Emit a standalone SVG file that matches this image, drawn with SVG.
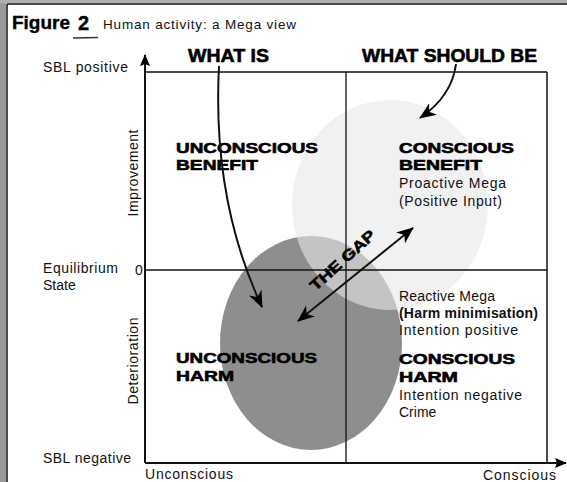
<svg xmlns="http://www.w3.org/2000/svg" width="567" height="482" viewBox="0 0 567 482">
<style>
.t{font-family:"Liberation Sans",Arial,sans-serif;font-size:14px;fill:#111}
.b{font-family:"Liberation Sans",Arial,sans-serif;font-weight:bold;font-size:15px;fill:#000;stroke:#000;stroke-width:0.6}
.ln{stroke:#111;fill:none}
</style>
<defs>
<marker id="big" markerUnits="userSpaceOnUse" markerWidth="18" markerHeight="14" refX="16" refY="7" orient="auto">
<path d="M0,0 L17,7 L0,14 L5,7 z" fill="#000"/>
</marker>
<marker id="bigs" markerUnits="userSpaceOnUse" markerWidth="18" markerHeight="14" refX="16" refY="7" orient="auto-start-reverse">
<path d="M0,0 L17,7 L0,14 L5,7 z" fill="#000"/>
</marker>
<marker id="ax" markerUnits="userSpaceOnUse" markerWidth="12" markerHeight="10" refX="11" refY="5" orient="auto">
<path d="M0,0 L12,5 L0,10 L2,5 z" fill="#000"/>
</marker>
</defs>
<rect width="567" height="482" fill="#fff"/>
<rect x="0" y="0" width="6" height="482" fill="#9a9a9a"/>
<rect x="0" y="0" width="567" height="3" fill="#b0b0b0"/>
<line class="ln" x1="7" y1="4" x2="7" y2="482" stroke-width="1.5"/>
<line class="ln" x1="7" y1="4" x2="567" y2="4" stroke-width="1.5"/>

<g id="title">
<text class="b" x="12" y="29" style="font-size:19px;stroke-width:0.4" textLength="58" lengthAdjust="spacingAndGlyphs">Figure</text>
<text class="b" x="78" y="30" style="font-size:20px;stroke-width:0.4">2</text>
<path d="M73,38 L98,37.5" stroke="#333" stroke-width="1.3"/>
<text class="t" x="103" y="29" style="font-size:13.5px" textLength="193">Human activity: a Mega view</text>
</g>

<g id="regions">
<ellipse cx="311" cy="343" rx="91" ry="107" fill="#8e8e8e"/>
<ellipse cx="390" cy="205" rx="98" ry="105" fill="#e8e8e8" opacity="0.6"/>
</g>

<g id="frame">
<line class="ln" x1="145" y1="72" x2="547" y2="72" stroke-width="1.5"/>
<line class="ln" x1="547" y1="72" x2="547" y2="463" stroke-width="1.5"/>
<line class="ln" x1="346" y1="72" x2="346" y2="463" stroke-width="1.3"/>
<line class="ln" x1="145" y1="270" x2="547" y2="270" stroke-width="1.5"/>
</g>

<g id="axes">
<line class="ln" x1="145" y1="463" x2="145" y2="55" stroke-width="2" marker-end="url(#ax)"/>
<line class="ln" x1="145" y1="463" x2="566" y2="463" stroke-width="2" marker-end="url(#ax)"/>
</g>

<g id="axis-labels">
<text class="t" x="43" y="72" textLength="85">SBL positive</text>
<text class="t" x="43" y="273" textLength="75">Equilibrium</text>
<text class="t" x="43" y="290">State</text>
<text class="t" x="135" y="275">0</text>
<text class="t" x="43" y="463" textLength="88">SBL negative</text>
<text class="t" x="145" y="479" textLength="88">Unconscious</text>
<text class="t" x="483" y="480" textLength="73">Conscious</text>
<text class="t" transform="translate(138,173) rotate(-90)" text-anchor="middle" textLength="87">Improvement</text>
<text class="t" transform="translate(138,361) rotate(-90)" text-anchor="middle" textLength="87">Deterioration</text>
</g>

<g id="what-is">
<text class="b" x="188" y="62" style="font-size:19px" textLength="81" lengthAdjust="spacingAndGlyphs">WHAT IS</text>
</g>
<g id="what-should-be">
<text class="b" x="362" y="62" style="font-size:19px" textLength="175" lengthAdjust="spacingAndGlyphs">WHAT SHOULD BE</text>
</g>

<g id="unconscious-benefit">
<text class="b" x="176" y="153" textLength="142" lengthAdjust="spacingAndGlyphs">UNCONSCIOUS</text>
<text class="b" x="176" y="170" textLength="82" lengthAdjust="spacingAndGlyphs">BENEFIT</text>
</g>
<g id="conscious-benefit">
<text class="b" x="399" y="153" textLength="115" lengthAdjust="spacingAndGlyphs">CONSCIOUS</text>
<text class="b" x="399" y="170" textLength="83" lengthAdjust="spacingAndGlyphs">BENEFIT</text>
<text class="t" x="399" y="188" textLength="107">Proactive Mega</text>
<text class="t" x="399" y="206" textLength="103">(Positive Input)</text>
</g>
<g id="reactive-mega">
<text class="t" x="399" y="301" textLength="96">Reactive Mega</text>
<text class="t" x="399" y="318" font-weight="bold" textLength="139">(Harm minimisation)</text>
<text class="t" x="399" y="335" textLength="119">Intention positive</text>
</g>
<g id="unconscious-harm">
<text class="b" x="176" y="363" textLength="141" lengthAdjust="spacingAndGlyphs">UNCONSCIOUS</text>
<text class="b" x="176" y="381" textLength="58" lengthAdjust="spacingAndGlyphs">HARM</text>
</g>
<g id="conscious-harm">
<text class="b" x="399" y="364" textLength="116" lengthAdjust="spacingAndGlyphs">CONSCIOUS</text>
<text class="b" x="399" y="382" textLength="59" lengthAdjust="spacingAndGlyphs">HARM</text>
<text class="t" x="399" y="400" textLength="123">Intention negative</text>
<text class="t" x="399" y="417">Crime</text>
</g>

<g id="the-gap">
<text class="b" transform="translate(346,264) rotate(-42)" text-anchor="middle" textLength="82" lengthAdjust="spacingAndGlyphs">THE GAP</text>
</g>

<g id="connectors">
<path class="ln" d="M219,66 Q212,200 262,307" stroke-width="2" marker-end="url(#big)"/>
<path class="ln" d="M456,64 Q452,96 420,118" stroke-width="2" marker-end="url(#big)"/>
<line class="ln" x1="298" y1="321" x2="413" y2="228" stroke-width="2" marker-start="url(#bigs)" marker-end="url(#big)"/>
</g>
</svg>
